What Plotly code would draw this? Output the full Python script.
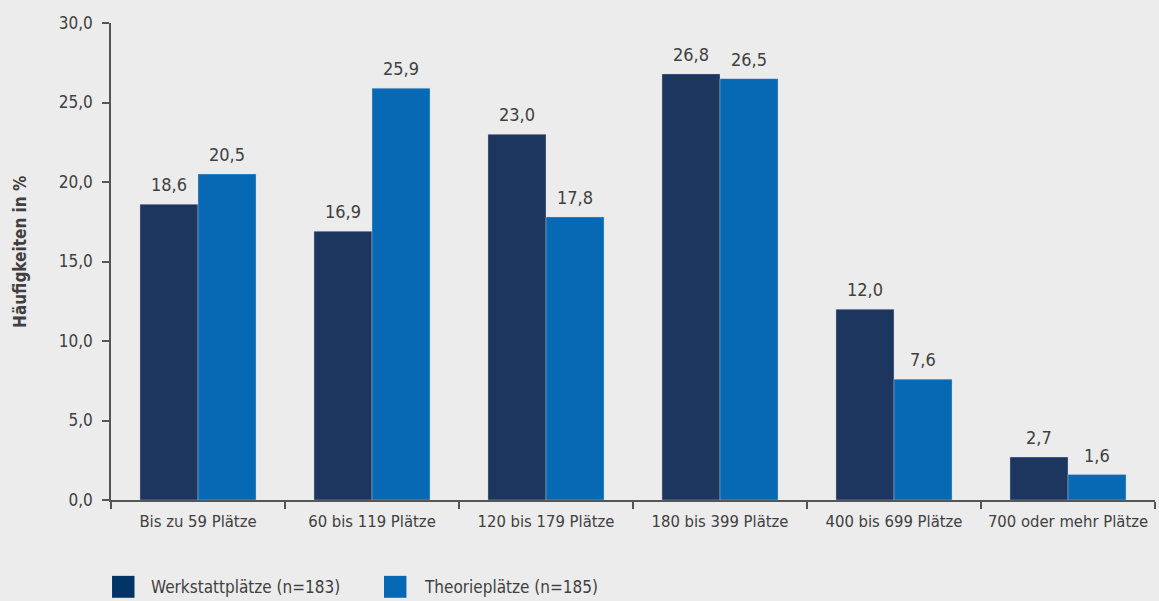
import plotly.graph_objects as go

categories = ["Bis zu 59 Plätze", "60 bis 119 Plätze", "120 bis 179 Plätze",
              "180 bis 399 Plätze", "400 bis 699 Plätze", "700 oder mehr Plätze"]
werkstatt = [18.6, 16.9, 23.0, 26.8, 12.0, 2.7]
theorie = [20.5, 25.9, 17.8, 26.5, 7.6, 1.6]
series_names = ["Werkstattplätze (n=183)", "Theorieplätze (n=185)"]
y_ticks = [0, 5, 10, 15, 20, 25, 30]

FONT = "Liberation Sans Narrow, DejaVu Sans Condensed, Roboto, sans-serif"
TEXT = "#404040"
BG = "#ececec"
DARK = "#1d365f"
BLUE = "#0769b4"
LEGEND_COLORS = ["#003366", "#0769b4"]

fig = go.Figure()
annotations = []
series = [(series_names[0], werkstatt, DARK, -29), (series_names[1], theorie, BLUE, 29)]
for name, vals, col, dx in series:
    fig.add_trace(go.Bar(
        x=categories, y=vals, name=name,
        marker=dict(color=col, line=dict(color="rgba(220,220,220,0.6)", width=0.6)),
        showlegend=False,
    ))
    # value labels above each bar
    for cat, v in zip(categories, vals):
        annotations.append(dict(x=cat, y=v, xref="x", yref="y", xshift=dx, yshift=7,
                                xanchor="center", yanchor="bottom", showarrow=False,
                                text=f"{v:.1f}".replace(".", ","),
                                font=dict(family=FONT, size=18, color=TEXT)))

# Legend drawn as square swatches with labels below the plot area
swatch_x = [0.001, 0.2615]
label_x = [0.0364, 0.2979]
shapes = []
for i, name in enumerate(series_names):
    shapes.append(dict(type="rect", xref="paper", yref="paper",
                       x0=swatch_x[i], x1=swatch_x[i] + 0.0215,
                       y0=-0.205, y1=-0.159,
                       fillcolor=LEGEND_COLORS[i], line=dict(width=0)))
    annotations.append(dict(xref="paper", yref="paper", x=label_x[i], y=-0.182,
                            xanchor="left", yanchor="middle", showarrow=False,
                            text=name, font=dict(family=FONT, size=17, color=TEXT)))

# Rotated y-axis title
annotations.append(dict(xref="paper", yref="paper", x=-0.0872, y=0.52,
                        xanchor="center", yanchor="middle", showarrow=False,
                        textangle=-90, text="<b>Häufigkeiten in %</b>",
                        font=dict(family=FONT, size=17, color=TEXT)))

fig.update_layout(
    width=1159, height=601,
    paper_bgcolor=BG, plot_bgcolor=BG,
    separators=",.",
    barmode="group", bargap=0.333, bargroupgap=0,
    margin=dict(l=111, r=4, t=23, b=101, autoexpand=False),
    font=dict(family=FONT, size=17, color=TEXT),
    showlegend=False,
    shapes=shapes,
    annotations=annotations,
    xaxis=dict(showline=True, linecolor="#555555", linewidth=1.5,
               ticks="outside", tickson="boundaries", ticklen=7, tickcolor="#555555",
               tickwidth=1.5, tickangle=0, ticklabelstandoff=5,
               tickfont=dict(family=FONT, size=16.5, color=TEXT),
               showgrid=False, automargin=False),
    yaxis=dict(range=[0, 30], tickvals=y_ticks, tickformat=".1f",
               showline=True, linecolor="#555555", linewidth=1.5,
               ticks="outside", ticklen=7, tickcolor="#555555", tickwidth=1.5,
               ticklabelstandoff=6,
               tickfont=dict(family=FONT, size=17, color=TEXT), showgrid=False,
               zeroline=False, automargin=False),
)

fig.write_html("out.html")
